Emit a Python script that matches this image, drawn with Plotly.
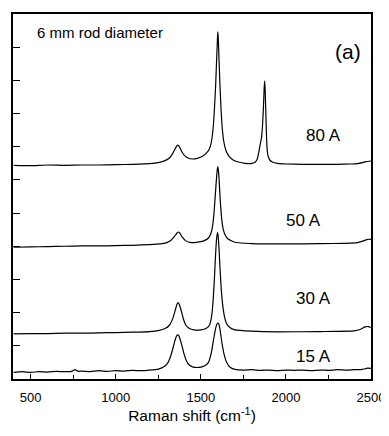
import plotly.graph_objects as go

# Raman shift (cm^-1) and intensity (offset, arbitrary units)
x_80A = [400, 500, 600, 700, 800, 900, 1000, 1100, 1200, 1250, 1290, 1315, 1335, 1350, 1358, 1365, 1372, 1380, 1392, 1405, 1425, 1450, 1480, 1510, 1535, 1550, 1562, 1572, 1580, 1587, 1593, 1598, 1600, 1603, 1607, 1612, 1618, 1625, 1635, 1648, 1665, 1690, 1720, 1760, 1800, 1820, 1832, 1840, 1848, 1856, 1862, 1868, 1872, 1875, 1878, 1882, 1886, 1890, 1896, 1905, 1920, 1950, 2000, 2100, 2200, 2300, 2380, 2420, 2450, 2470, 2500]
y_80A = [6.44, 6.43, 6.45, 6.44, 6.45, 6.45, 6.46, 6.47, 6.49, 6.52, 6.58, 6.66, 6.80, 6.95, 7.02, 7.05, 7.02, 6.94, 6.82, 6.73, 6.66, 6.63, 6.65, 6.71, 6.82, 6.93, 7.15, 7.55, 8.15, 8.85, 9.65, 10.3, 10.46, 10.2, 9.6, 8.9, 8.2, 7.6, 7.15, 6.88, 6.72, 6.60, 6.54, 6.50, 6.50, 6.54, 6.64, 6.82, 7.05, 7.25, 7.6, 8.2, 8.75, 8.98, 8.7, 8.0, 7.3, 6.9, 6.7, 6.6, 6.54, 6.50, 6.48, 6.47, 6.47, 6.47, 6.48, 6.49, 6.52, 6.55, 6.57]

x_50A = [400, 500, 600, 700, 800, 900, 1000, 1100, 1200, 1260, 1300, 1325, 1345, 1360, 1368, 1376, 1390, 1410, 1435, 1460, 1490, 1520, 1545, 1560, 1570, 1578, 1585, 1592, 1597, 1600, 1604, 1609, 1615, 1622, 1630, 1642, 1660, 1700, 1800, 2000, 2200, 2350, 2420, 2460, 2480, 2500]
y_50A = [3.97, 3.98, 3.99, 4.00, 4.01, 4.01, 4.02, 4.03, 4.05, 4.07, 4.11, 4.18, 4.30, 4.40, 4.43, 4.40, 4.28, 4.17, 4.12, 4.11, 4.13, 4.17, 4.25, 4.40, 4.65, 5.05, 5.55, 6.05, 6.33, 6.39, 6.25, 5.85, 5.30, 4.85, 4.55, 4.35, 4.22, 4.12, 4.08, 4.07, 4.08, 4.09, 4.11, 4.17, 4.21, 4.21]

x_30A = [400, 500, 600, 700, 800, 900, 1000, 1100, 1200, 1250, 1290, 1315, 1335, 1350, 1360, 1367, 1374, 1385, 1398, 1412, 1430, 1460, 1500, 1530, 1550, 1562, 1572, 1580, 1587, 1593, 1598, 1602, 1607, 1613, 1620, 1628, 1638, 1650, 1670, 1700, 1800, 1950, 2200, 2400, 2440, 2465, 2485, 2500]
y_30A = [1.36, 1.37, 1.37, 1.38, 1.38, 1.39, 1.40, 1.41, 1.43, 1.46, 1.52, 1.62, 1.82, 2.08, 2.26, 2.30, 2.24, 2.05, 1.80, 1.62, 1.53, 1.48, 1.48, 1.52, 1.62, 1.85, 2.35, 3.05, 3.80, 4.25, 4.41, 4.30, 3.90, 3.30, 2.70, 2.25, 1.90, 1.68, 1.55, 1.48, 1.44, 1.42, 1.43, 1.45, 1.50, 1.57, 1.58, 1.55]

x_15A = [400, 450, 500, 550, 600, 650, 700, 740, 760, 780, 800, 850, 900, 950, 1000, 1050, 1100, 1150, 1200, 1250, 1280, 1305, 1322, 1337, 1350, 1360, 1367, 1375, 1388, 1400, 1415, 1432, 1455, 1490, 1520, 1545, 1562, 1575, 1588, 1598, 1605, 1612, 1618, 1625, 1635, 1650, 1670, 1700, 1750, 1800, 1850, 1900, 1950, 2000, 2050, 2100, 2150, 2200, 2250, 2300, 2350, 2400, 2450, 2480, 2500]
y_15A = [0.20, 0.22, 0.20, 0.22, 0.21, 0.23, 0.22, 0.23, 0.28, 0.23, 0.24, 0.22, 0.25, 0.23, 0.25, 0.24, 0.26, 0.25, 0.27, 0.30, 0.36, 0.48, 0.68, 0.95, 1.20, 1.32, 1.33, 1.25, 1.02, 0.78, 0.55, 0.42, 0.36, 0.35, 0.39, 0.50, 0.80, 1.20, 1.55, 1.68, 1.66, 1.52, 1.30, 1.05, 0.78, 0.52, 0.36, 0.29, 0.27, 0.28, 0.26, 0.27, 0.25, 0.27, 0.26, 0.27, 0.25, 0.27, 0.26, 0.28, 0.27, 0.28, 0.29, 0.33, 0.32]

series = [("80 A", x_80A, y_80A), ("50 A", x_50A, y_50A), ("30 A", x_30A, y_30A), ("15 A", x_15A, y_15A)]

label_text = ["80 A", "50 A", "30 A", "15 A"]
label_x = [2220, 2103, 2162, 2162]
label_y = [7.35, 4.79, 2.44, 0.69]

x_tickvals = [500, 1000, 1500, 2000, 2500]
x_minor_tickvals = [750, 1250, 1750, 2250]
y_tickvals = [1, 2, 3, 4, 5, 6, 7, 8, 9, 10]

FONT = "Arial, 'Liberation Sans', sans-serif"

fig = go.Figure()
for name, xs, ys in series:
    fig.add_trace(go.Scatter(x=xs, y=ys, mode="lines", name=name,
                             line=dict(color="black", width=1.2, shape="spline", smoothing=0.4)))

for t, lx, ly in zip(label_text, label_x, label_y):
    fig.add_annotation(x=lx, y=ly, xref="x", yref="y", text=t, showarrow=False,
                       font=dict(family=FONT, size=17, color="black"))

fig.add_annotation(x=0.0615, y=0.948, xref="paper", yref="paper", text="6 mm rod diameter",
                   showarrow=False, xanchor="left", yanchor="middle",
                   font=dict(family=FONT, size=15, color="black"))
fig.add_annotation(x=0.977, y=0.896, xref="paper", yref="paper", text="(a)",
                   showarrow=False, xanchor="right", yanchor="middle",
                   font=dict(family=FONT, size=21, color="black"))

# the page body adds an 8px offset, so the figure's margins are set so that the plot
# area lands where it does in the reference picture
fig.update_layout(
    width=389, height=420,
    margin=dict(l=5, r=26, t=6, b=49),
    paper_bgcolor="white", plot_bgcolor="white",
    showlegend=False,
    font=dict(family=FONT, color="black"),
)
fig.update_xaxes(
    range=[396, 2500], tickvals=x_tickvals, ticks="inside", ticklen=5, tickwidth=1,
    tickcolor="black", showline=True, linecolor="black", linewidth=2, mirror=True,
    showgrid=False, zeroline=False, tickfont=dict(family=FONT, size=13, color="black"),
    ticklabelstandoff=5, automargin=False,
    minor=dict(tickvals=x_minor_tickvals, ticks="inside", ticklen=4, tickcolor="black"),
    title=dict(text="Raman shift (cm<sup>-1</sup>)", font=dict(family=FONT, size=15.5, color="black"), standoff=6),
)
fig.update_yaxes(
    range=[0, 11], tickvals=y_tickvals, ticks="inside", ticklen=7, tickwidth=1,
    tickcolor="black", showline=True, linecolor="black", linewidth=2, mirror=True,
    showgrid=False, zeroline=False, showticklabels=False, automargin=False,
)

fig.write_html("out.html")
